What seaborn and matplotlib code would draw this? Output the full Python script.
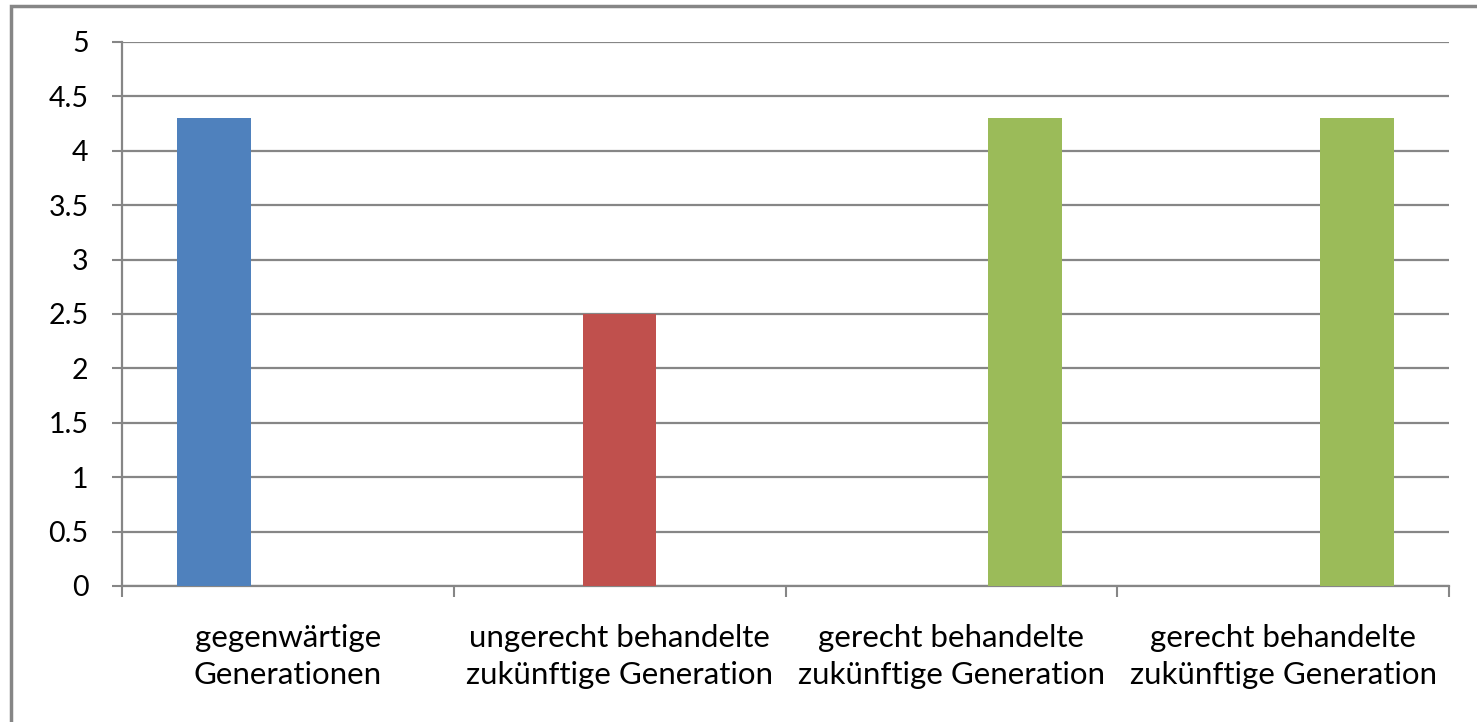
import matplotlib
matplotlib.use("Agg")
import matplotlib.pyplot as plt
import matplotlib.patches as mpatches
import seaborn as sns
import pandas as pd
import numpy as np

categories = ["gegenwärtige\nGenerationen",
              "ungerecht behandelte\nzukünftige Generation",
              "gerecht behandelte\nzukünftige Generation",
              "gerecht behandelte\nzukünftige Generation"]
series = ["Reihe1", "Reihe2", "Reihe3", "Reihe3"]
values = [4.3, 2.5, 4.3, 4.3]
series_order = ["Reihe1", "Reihe2", "Reihe3"]
colors = ["#4F81BD", "#C0504D", "#9BBB59"]
yticks = [0, 0.5, 1, 1.5, 2, 2.5, 3, 3.5, 4, 4.5, 5]
ytick_labels = ["0", "0.5", "1", "1.5", "2", "2.5", "3", "3.5", "4", "4.5", "5"]

sns.set_theme(style="white")
plt.rcParams["font.family"] = ["Lato", "DejaVu Sans"]

cat_keys = [f"k{i}" for i in range(len(categories))]
df = pd.DataFrame({"cat": cat_keys, "series": series, "value": values})

fig = plt.figure(figsize=(14.77, 7.22), dpi=100)
ax = fig.add_axes([122/1477, (722-586)/722, (1449-122)/1477, (586-42)/722])

grid_c = "#868686"
sns.barplot(data=df, x="cat", y="value", hue="series", hue_order=series_order,
            order=cat_keys, palette=colors, width=2/3, dodge=True,
            saturation=1, linewidth=0, ax=ax, zorder=3)
if ax.get_legend() is not None:
    ax.get_legend().remove()

ax.set_ylim(0, 5)
ax.set_xlim(-0.5, len(categories) - 0.5)
ax.set_yticks(yticks)
ax.set_yticklabels(ytick_labels)
ax.yaxis.grid(True, color=grid_c, linewidth=1.6, zorder=0)
ax.set_axisbelow(True)
ax.set_xlabel("")
ax.set_ylabel("")

# category boundaries as major ticks, labels at minor ticks
ax.set_xticks(np.arange(-0.5, len(categories), 1.0))
ax.set_xticklabels([])
ax.set_xticks(np.arange(len(categories)), minor=True)
ax.set_xticklabels(categories, minor=True, fontsize=22.5, color="#000000",
                   linespacing=1.42)
ax.tick_params(axis="x", which="major", direction="out", length=8, width=1.5,
               color=grid_c, bottom=True)
ax.tick_params(axis="x", which="minor", length=0, pad=27)
ax.tick_params(axis="y", direction="out", length=7, width=1.5, color=grid_c,
               left=True, pad=17, labelsize=20.5, labelcolor="#000000")

for s in ["top", "right"]:
    ax.spines[s].set_visible(False)
for s in ["left", "bottom"]:
    ax.spines[s].set_color(grid_c)
    ax.spines[s].set_linewidth(1.6)

# outer chart frame
frame = mpatches.Rectangle((11/1477, -0.1), 1.2, (722-6)/722 + 0.1,
                           transform=fig.transFigure, fill=False,
                           edgecolor=grid_c, linewidth=2.5, zorder=-1)
fig.patches.append(frame)

fig.savefig("out.png", dpi=100)
